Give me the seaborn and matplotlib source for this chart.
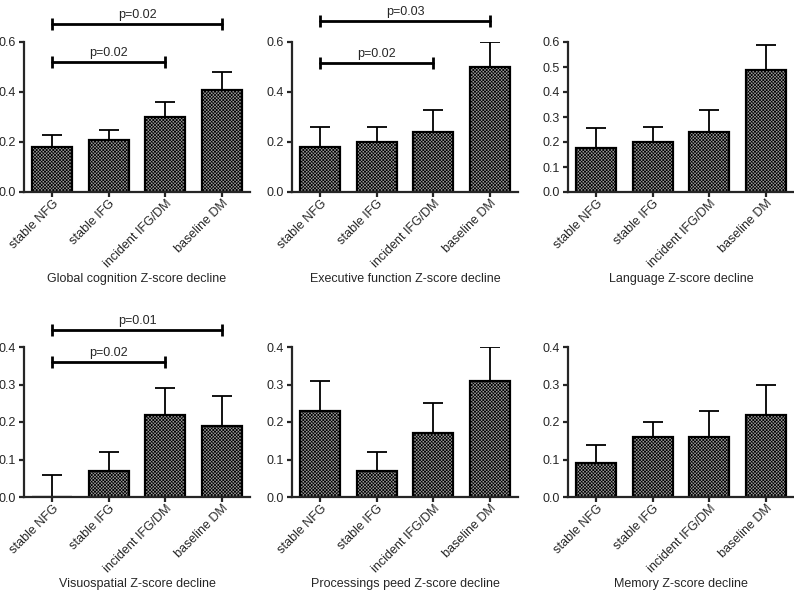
"""
Bar charts of cognitive Z-score decline by glycaemic group
Six panels, upward SEM bars, significance brackets
"""

import numpy as np
import pandas as pd
import matplotlib
matplotlib.use("Agg")
import matplotlib.pyplot as plt
import seaborn as sns

# Data
groups = ["stable NFG", "stable IFG", "incident IFG/DM", "baseline DM"]

global_mean = [0.18, 0.21, 0.30, 0.41]
global_err = [0.05, 0.04, 0.06, 0.07]

exec_mean = [0.18, 0.20, 0.24, 0.50]
exec_err = [0.08, 0.06, 0.09, 0.10]

lang_mean = [0.175, 0.20, 0.24, 0.49]
lang_err = [0.08, 0.06, 0.09, 0.10]

visuo_mean = [0.0, 0.07, 0.22, 0.19]
visuo_err = [0.06, 0.05, 0.07, 0.08]

speed_mean = [0.23, 0.07, 0.17, 0.31]
speed_err = [0.08, 0.05, 0.08, 0.09]

memory_mean = [0.09, 0.16, 0.16, 0.22]
memory_err = [0.05, 0.04, 0.07, 0.08]

titles = [
    "Global cognition Z-score decline",
    "Executive function Z-score decline",
    "Language Z-score decline",
    "Visuospatial Z-score decline",
    "Processings peed Z-score decline",
    "Memory Z-score decline",
]

# brackets: (start group, end group, y level, label)
global_pvals = [(0, 3, 0.672, "p=0.02"), (0, 2, 0.52, "p=0.02")]
exec_pvals = [(0, 3, 0.684, "p=0.03"), (0, 2, 0.516, "p=0.02")]
visuo_pvals = [(0, 3, 0.445, "p=0.01"), (0, 2, 0.36, "p=0.02")]

panels = [
    (global_mean, global_err, 0.6, 0.2, global_pvals),
    (exec_mean, exec_err, 0.6, 0.2, exec_pvals),
    (lang_mean, lang_err, 0.6, 0.1, []),
    (visuo_mean, visuo_err, 0.4, 0.1, visuo_pvals),
    (speed_mean, speed_err, 0.4, 0.1, []),
    (memory_mean, memory_err, 0.4, 0.1, []),
]

sns.set_theme(style="ticks")
plt.rcParams["font.family"] = ["Liberation Sans", "DejaVu Sans"]
plt.rcParams["hatch.color"] = "#151515"
plt.rcParams["hatch.linewidth"] = 0.5

W, H = 794, 593
fig = plt.figure(figsize=(W / 100, H / 100), dpi=100)

lefts = [24, 292, 568]
tops = [42, 347]
ax_w, ax_h = 226, 150
lw = 1.6

for i, (means, errs, ymax, step, pvals) in enumerate(panels):
    row, col = divmod(i, 3)
    ax = fig.add_axes([lefts[col] / W, 1 - (tops[row] + ax_h) / H, ax_w / W, ax_h / H])

    df = pd.DataFrame({"group": groups, "value": means})
    sns.barplot(data=df, x="group", y="value", ax=ax, color="#9c9c9c",
                width=0.7, edgecolor="black", linewidth=lw, errorbar=None,
                saturation=1)
    for p in ax.patches:
        p.set_hatch("xxxxxxxxxx")

    x = np.arange(len(groups))
    ax.errorbar(x, means, yerr=[np.zeros(len(errs)), errs], fmt="none",
                ecolor="black", elinewidth=1.3, capsize=7, capthick=1.3, zorder=1)

    for a, b, y, lab in pvals:
        ax.plot([a, b], [y, y], color="black", lw=2, marker="|", markersize=8,
                markeredgewidth=2, clip_on=False)
        ax.annotate(lab, xy=((a + b) / 2, y), xytext=(0, 2.5),
                    textcoords="offset points", ha="center", va="bottom",
                    fontsize=9, annotation_clip=False)

    ax.set_xlim(-0.5, 3.5)
    ax.set_ylim(0, ymax)
    ax.set_yticks(np.arange(0, ymax + step / 2, step))
    ax.yaxis.set_major_formatter(matplotlib.ticker.FormatStrFormatter("%.1f"))
    ax.set_xlabel("")
    ax.set_ylabel("")
    ax.set_xticks(x)
    ax.set_xticklabels(groups, rotation=45, ha="right", va="top",
                       rotation_mode="anchor", fontsize=9)
    ax.tick_params(axis="y", labelsize=9, length=3.6, width=lw, pad=2)
    ax.tick_params(axis="x", length=3.6, width=lw, pad=0.5)
    for s in ["top", "right"]:
        ax.spines[s].set_visible(False)
    for s in ["left", "bottom"]:
        ax.spines[s].set_linewidth(lw)
    ax.text(0.5, -87 / ax_h, titles[i], transform=ax.transAxes,
            ha="center", va="center", fontsize=9)

fig.savefig("out.png", dpi=100)
